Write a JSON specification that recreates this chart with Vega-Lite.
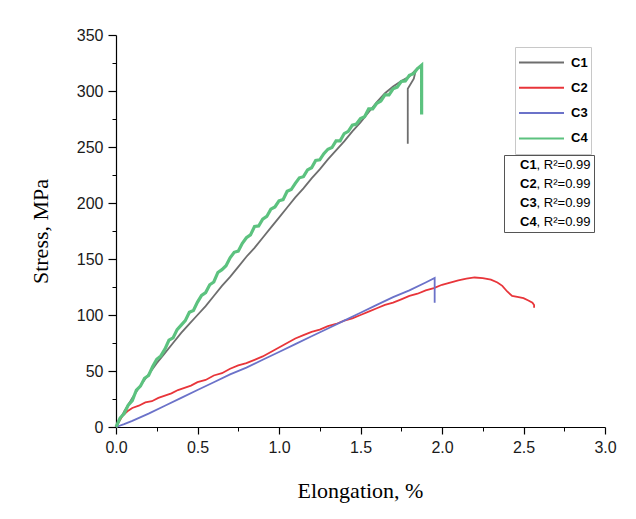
{
  "$schema": "https://vega.github.io/schema/vega-lite/v6.json",
  "width": 489,
  "height": 392,
  "autosize": {"type": "none"},
  "padding": {"left": 116, "top": 35, "right": 31, "bottom": 92},
  "background": "white",
  "config": {"view": {"stroke": null}},
  "datasets": {
    "curves": [
      {"series":"C1","strain":0,"stress":0},{"series":"C1","strain":0.05,"stress":14},{"series":"C1","strain":0.1,"stress":26},{"series":"C1","strain":0.15,"stress":37},{"series":"C1","strain":0.2,"stress":47},{"series":"C1","strain":0.25,"stress":57},{"series":"C1","strain":0.3,"stress":66},{"series":"C1","strain":0.35,"stress":75},{"series":"C1","strain":0.4,"stress":84},{"series":"C1","strain":0.45,"stress":92},{"series":"C1","strain":0.5,"stress":100},{"series":"C1","strain":0.55,"stress":108},{"series":"C1","strain":0.6,"stress":117},{"series":"C1","strain":0.65,"stress":126},{"series":"C1","strain":0.7,"stress":134},{"series":"C1","strain":0.75,"stress":143},{"series":"C1","strain":0.8,"stress":152},{"series":"C1","strain":0.85,"stress":160},{"series":"C1","strain":0.9,"stress":169},{"series":"C1","strain":0.95,"stress":178},{"series":"C1","strain":1.0,"stress":187},{"series":"C1","strain":1.05,"stress":196},{"series":"C1","strain":1.1,"stress":205},{"series":"C1","strain":1.15,"stress":213},{"series":"C1","strain":1.2,"stress":222},{"series":"C1","strain":1.25,"stress":230},{"series":"C1","strain":1.3,"stress":239},{"series":"C1","strain":1.35,"stress":247},{"series":"C1","strain":1.4,"stress":255},{"series":"C1","strain":1.45,"stress":264},{"series":"C1","strain":1.5,"stress":272},{"series":"C1","strain":1.55,"stress":281},{"series":"C1","strain":1.6,"stress":290},{"series":"C1","strain":1.65,"stress":298},{"series":"C1","strain":1.7,"stress":304},{"series":"C1","strain":1.75,"stress":309},{"series":"C1","strain":1.8,"stress":313},{"series":"C1","strain":1.84,"stress":319},{"series":"C1","strain":1.827,"stress":311},{"series":"C1","strain":1.79,"stress":302},{"series":"C1","strain":1.79,"stress":253},
      {"series":"C2","strain":0,"stress":0},{"series":"C2","strain":0.02,"stress":5},{"series":"C2","strain":0.04,"stress":10},{"series":"C2","strain":0.07,"stress":14},{"series":"C2","strain":0.1,"stress":17},{"series":"C2","strain":0.14,"stress":19},{"series":"C2","strain":0.18,"stress":22},{"series":"C2","strain":0.22,"stress":23},{"series":"C2","strain":0.26,"stress":26},{"series":"C2","strain":0.3,"stress":28},{"series":"C2","strain":0.34,"stress":30},{"series":"C2","strain":0.38,"stress":33},{"series":"C2","strain":0.42,"stress":35},{"series":"C2","strain":0.46,"stress":37},{"series":"C2","strain":0.5,"stress":40},{"series":"C2","strain":0.55,"stress":42},{"series":"C2","strain":0.6,"stress":46},{"series":"C2","strain":0.65,"stress":48},{"series":"C2","strain":0.7,"stress":52},{"series":"C2","strain":0.75,"stress":55},{"series":"C2","strain":0.8,"stress":57},{"series":"C2","strain":0.85,"stress":60},{"series":"C2","strain":0.9,"stress":63},{"series":"C2","strain":0.95,"stress":67},{"series":"C2","strain":1.0,"stress":71},{"series":"C2","strain":1.05,"stress":75},{"series":"C2","strain":1.1,"stress":79},{"series":"C2","strain":1.15,"stress":82},{"series":"C2","strain":1.2,"stress":85},{"series":"C2","strain":1.25,"stress":87},{"series":"C2","strain":1.3,"stress":90},{"series":"C2","strain":1.35,"stress":92},{"series":"C2","strain":1.4,"stress":95},{"series":"C2","strain":1.45,"stress":97},{"series":"C2","strain":1.5,"stress":100},{"series":"C2","strain":1.55,"stress":103},{"series":"C2","strain":1.6,"stress":106},{"series":"C2","strain":1.65,"stress":109},{"series":"C2","strain":1.7,"stress":111},{"series":"C2","strain":1.75,"stress":114},{"series":"C2","strain":1.8,"stress":117},{"series":"C2","strain":1.85,"stress":119},{"series":"C2","strain":1.9,"stress":122},{"series":"C2","strain":1.95,"stress":124},{"series":"C2","strain":2.0,"stress":127},{"series":"C2","strain":2.05,"stress":129},{"series":"C2","strain":2.1,"stress":131},{"series":"C2","strain":2.15,"stress":132.5},{"series":"C2","strain":2.2,"stress":133.5},{"series":"C2","strain":2.25,"stress":133},{"series":"C2","strain":2.3,"stress":131.5},{"series":"C2","strain":2.34,"stress":129},{"series":"C2","strain":2.37,"stress":126},{"series":"C2","strain":2.4,"stress":121},{"series":"C2","strain":2.43,"stress":117},{"series":"C2","strain":2.47,"stress":116},{"series":"C2","strain":2.5,"stress":115},{"series":"C2","strain":2.53,"stress":113},{"series":"C2","strain":2.555,"stress":111},{"series":"C2","strain":2.565,"stress":109},{"series":"C2","strain":2.565,"stress":106.5},
      {"series":"C3","strain":0,"stress":0},{"series":"C3","strain":0.05,"stress":2.5},{"series":"C3","strain":0.1,"stress":5.5},{"series":"C3","strain":0.2,"stress":12},{"series":"C3","strain":0.3,"stress":19},{"series":"C3","strain":0.4,"stress":26},{"series":"C3","strain":0.5,"stress":33},{"series":"C3","strain":0.6,"stress":40},{"series":"C3","strain":0.7,"stress":47},{"series":"C3","strain":0.8,"stress":53},{"series":"C3","strain":0.9,"stress":60},{"series":"C3","strain":1.0,"stress":67},{"series":"C3","strain":1.1,"stress":74},{"series":"C3","strain":1.2,"stress":81},{"series":"C3","strain":1.3,"stress":88},{"series":"C3","strain":1.4,"stress":95},{"series":"C3","strain":1.5,"stress":102},{"series":"C3","strain":1.6,"stress":109},{"series":"C3","strain":1.7,"stress":116},{"series":"C3","strain":1.8,"stress":122},{"series":"C3","strain":1.9,"stress":129},{"series":"C3","strain":1.955,"stress":133},{"series":"C3","strain":1.955,"stress":111},
      {"series":"C4","strain":0,"stress":0},{"series":"C4","strain":0.025,"stress":8},{"series":"C4","strain":0.05,"stress":12},{"series":"C4","strain":0.075,"stress":19.5},{"series":"C4","strain":0.1,"stress":23.5},{"series":"C4","strain":0.125,"stress":33},{"series":"C4","strain":0.15,"stress":36.5},{"series":"C4","strain":0.175,"stress":43.5},{"series":"C4","strain":0.2,"stress":46},{"series":"C4","strain":0.225,"stress":54},{"series":"C4","strain":0.25,"stress":60.5},{"series":"C4","strain":0.275,"stress":63.5},{"series":"C4","strain":0.3,"stress":69.5},{"series":"C4","strain":0.325,"stress":77.5},{"series":"C4","strain":0.35,"stress":79.5},{"series":"C4","strain":0.375,"stress":87},{"series":"C4","strain":0.4,"stress":91},{"series":"C4","strain":0.425,"stress":95},{"series":"C4","strain":0.45,"stress":102.5},{"series":"C4","strain":0.475,"stress":104},{"series":"C4","strain":0.5,"stress":111.5},{"series":"C4","strain":0.525,"stress":117.5},{"series":"C4","strain":0.55,"stress":120},{"series":"C4","strain":0.575,"stress":127},{"series":"C4","strain":0.6,"stress":129.5},{"series":"C4","strain":0.625,"stress":138},{"series":"C4","strain":0.65,"stress":140.5},{"series":"C4","strain":0.675,"stress":144},{"series":"C4","strain":0.7,"stress":151},{"series":"C4","strain":0.725,"stress":156},{"series":"C4","strain":0.75,"stress":157},{"series":"C4","strain":0.775,"stress":164},{"series":"C4","strain":0.8,"stress":169},{"series":"C4","strain":0.825,"stress":171.5},{"series":"C4","strain":0.85,"stress":179},{"series":"C4","strain":0.875,"stress":179.5},{"series":"C4","strain":0.9,"stress":185.5},{"series":"C4","strain":0.925,"stress":188},{"series":"C4","strain":0.95,"stress":194.5},{"series":"C4","strain":0.975,"stress":196.5},{"series":"C4","strain":1.0,"stress":202},{"series":"C4","strain":1.025,"stress":203},{"series":"C4","strain":1.05,"stress":210.5},{"series":"C4","strain":1.075,"stress":212},{"series":"C4","strain":1.1,"stress":217.5},{"series":"C4","strain":1.125,"stress":222.5},{"series":"C4","strain":1.15,"stress":223.5},{"series":"C4","strain":1.175,"stress":229.5},{"series":"C4","strain":1.2,"stress":231.5},{"series":"C4","strain":1.225,"stress":238},{"series":"C4","strain":1.25,"stress":238.5},{"series":"C4","strain":1.275,"stress":244},{"series":"C4","strain":1.3,"stress":248},{"series":"C4","strain":1.325,"stress":249.5},{"series":"C4","strain":1.35,"stress":255.5},{"series":"C4","strain":1.375,"stress":255.5},{"series":"C4","strain":1.4,"stress":262},{"series":"C4","strain":1.425,"stress":264},{"series":"C4","strain":1.45,"stress":269.5},{"series":"C4","strain":1.475,"stress":270.5},{"series":"C4","strain":1.5,"stress":275.5},{"series":"C4","strain":1.525,"stress":277},{"series":"C4","strain":1.55,"stress":284},{"series":"C4","strain":1.575,"stress":284},{"series":"C4","strain":1.6,"stress":289},{"series":"C4","strain":1.625,"stress":291},{"series":"C4","strain":1.65,"stress":296.5},{"series":"C4","strain":1.675,"stress":296.5},{"series":"C4","strain":1.7,"stress":302},{"series":"C4","strain":1.725,"stress":303.5},{"series":"C4","strain":1.75,"stress":308.5},{"series":"C4","strain":1.775,"stress":309},{"series":"C4","strain":1.8,"stress":314},{"series":"C4","strain":1.825,"stress":315.5},{"series":"C4","strain":1.85,"stress":320},{"series":"C4","strain":1.875,"stress":323},{"series":"C4","strain":1.875,"stress":279}
    ],
    "fits": [
      {"curve":"C1","fit":"C1, R²=0.99"},
      {"curve":"C2","fit":"C2, R²=0.99"},
      {"curve":"C3","fit":"C3, R²=0.99"},
      {"curve":"C4","fit":"C4, R²=0.99"}
    ]
  },
  "data": {"name": "curves"},
  "resolve": {"axis": {"x": "independent", "y": "independent"}},
  "layer": [
    {
      "mark": {"type": "point", "opacity": 0},
      "encoding": {
        "x": {"field": "strain", "type": "quantitative", "scale": {"domain": [0, 3], "nice": false, "zero": false, "padding": 0},
          "axis": {"orient": "bottom", "values": [0.25, 0.75, 1.25, 1.75, 2.25, 2.75], "labels": false, "domain": false, "grid": false, "ticks": true, "tickSize": 4, "tickColor": "#000", "title": null}},
        "y": {"field": "stress", "type": "quantitative", "scale": {"domain": [0, 350], "nice": false, "padding": 0},
          "axis": {"orient": "left", "values": [25, 75, 125, 175, 225, 275, 325], "labels": false, "domain": false, "grid": false, "ticks": true, "tickSize": 4, "tickColor": "#000", "title": null}}
      }
    },
    {
      "mark": {"type": "line", "interpolate": "linear"},
      "encoding": {
        "x": {"field": "strain", "type": "quantitative",
          "axis": {"orient": "bottom", "values": [0, 0.5, 1, 1.5, 2, 2.5, 3], "format": ".1f", "grid": false, "labelFlush": false,
            "domainColor": "#000", "domainWidth": 1.2, "tickColor": "#000", "tickSize": 7, "tickWidth": 1.2,
            "labelFont": "Liberation Sans", "labelFontSize": 16, "labelColor": "#1a1a1a", "labelPadding": 5,
            "title": "Elongation, %", "titleFont": "Liberation Serif", "titleFontSize": 22, "titleFontWeight": "normal", "titleColor": "#000",
            "titleX": 244, "titleY": 63, "titleBaseline": "middle", "titleAlign": "center"}},
        "y": {"field": "stress", "type": "quantitative",
          "axis": {"orient": "left", "values": [0, 50, 100, 150, 200, 250, 300, 350], "grid": false, "labelFlush": false,
            "domainColor": "#000", "domainWidth": 1.2, "tickColor": "#000", "tickSize": 8, "tickWidth": 1.2,
            "labelFont": "Liberation Sans", "labelFontSize": 16, "labelColor": "#1a1a1a", "labelPadding": 5,
            "title": "Stress, MPa", "titleFont": "Liberation Serif", "titleFontSize": 22, "titleFontWeight": "normal", "titleColor": "#000",
            "titleX": -76, "titleY": 196, "titleAngle": -90, "titleBaseline": "middle", "titleAlign": "center"}},
        "color": {"field": "series", "type": "nominal",
          "scale": {"domain": ["C1", "C2", "C3", "C4"], "range": ["#6e6e6e", "#e8353a", "#6b72c9", "#5cc27f"]},
          "legend": {"orient": "none", "legendX": 399, "legendY": 12, "title": null,
            "symbolType": "stroke", "symbolSize": 2025, "symbolStrokeWidth": 2,
            "labelFont": "Liberation Sans", "labelFontSize": 13, "labelFontWeight": "bold", "labelColor": "#000",
            "labelOffset": 6, "clipHeight": 25, "rowPadding": 0.3, "padding": 3,
            "fillColor": "white", "strokeColor": "#c8c8c8"}},
        "strokeWidth": {"condition": {"test": "datum.series === 'C4'", "value": 3.2}, "value": 1.8},
        "order": {"value": null}
      }
    },
    {
      "data": {"name": "fits"},
      "mark": {"type": "point", "opacity": 0},
      "encoding": {
        "shape": {"field": "fit", "type": "nominal",
          "legend": {"orient": "none", "legendX": 388, "legendY": 120, "title": null,
            "symbolSize": 0, "symbolOpacity": 0, "labelOffset": 16.6,
            "labelFont": "Liberation Sans", "labelFontSize": 13, "labelColor": "#000",
            "labelExpr": "substring(datum.label, 2) + '\u00a0\u00a0\u00a0\u00a0'",
            "clipHeight": 13, "rowPadding": 5, "padding": 3,
            "strokeColor": "#555",
            "encode": {"legend": {"update": {"strokeWidth": {"value": 1.5}}}}}}
      }
    },
    {
      "data": {"name": "fits"},
      "mark": {"type": "point", "opacity": 0},
      "encoding": {
        "strokeDash": {"field": "curve", "type": "nominal",
          "legend": {"orient": "none", "legendX": 388, "legendY": 120, "title": null,
            "symbolSize": 0, "symbolOpacity": 0, "labelOffset": 0,
            "labelFont": "Liberation Sans", "labelFontSize": 13, "labelFontWeight": "bold", "labelColor": "#000",
            "clipHeight": 13, "rowPadding": 5, "padding": 3}}
      }
    }
  ]
}
